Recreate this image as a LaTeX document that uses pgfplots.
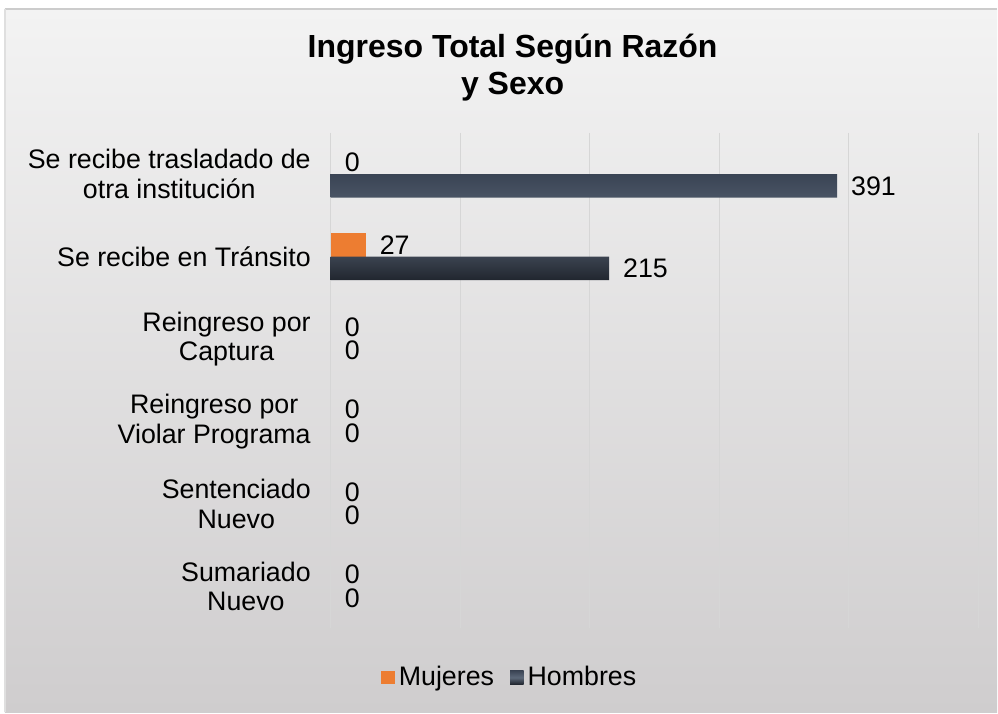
\documentclass[border=0pt]{standalone}
\usepackage{pgfplots}
\pgfplotsset{compat=1.18}
\usepackage{fontspec}
\setmainfont{Liberation Sans}
\definecolor{bgtop}{RGB}{243,243,243}
\definecolor{bgbot}{RGB}{207,205,206}
\definecolor{gridc}{RGB}{214,214,214}
\definecolor{orangec}{RGB}{237,125,49}
\definecolor{navytop}{RGB}{58,68,84}
\definecolor{navymid}{RGB}{92,104,121}
\definecolor{navybot}{RGB}{33,38,47}
\begin{document}
\begin{tikzpicture}
% canvas 998x713 px, 1px = 0.5pt
\fill[white] (0pt,0pt) rectangle (499pt,356.5pt);
\shade[top color=bgtop, bottom color=bgbot] (2.5pt,0pt) rectangle (499pt,352pt);
\draw[gray!40, line width=0.8pt] (2.5pt,352pt) -- (499pt,352pt);
\draw[gray!25, line width=0.6pt] (2.5pt,0pt) -- (2.5pt,352pt);
\node[align=center, font=\fontsize{16}{18.5}\selectfont\bfseries] at (256.5pt,322.5pt) {Ingreso Total Según Razón\\y Sexo};
\begin{axis}[
  at={(165.5pt,42.5pt)}, anchor=south west,
  scale only axis, width=324pt, height=247.5pt,
  xbar, bar width=11.75pt,
  xmin=0, xmax=500,
  ymin=-0.5, ymax=5.5, y dir=reverse,
  xtick={0,100,...,500}, xticklabels={},
  ytick={0,1,2,3,4,5},
  yticklabels={{Se recibe trasladado de\\otra institución},{Se recibe en Tránsito},{Reingreso por\\Captura},{Reingreso por\\Violar Programa},{Sentenciado\\Nuevo},{Sumariado\\Nuevo}},
  yticklabel style={align=center, font=\fontsize{13.4}{14.8}\selectfont, xshift=-6.5pt},
  major tick length=0pt,
  xmajorgrids, grid style={gridc, line width=0.6pt},
  axis line style={draw=none},
  /pgf/number format/assume math mode=true,
  nodes near coords,
  nodes near coords style={font=\fontsize{13.4}{14.8}\selectfont, anchor=west, xshift=3.5pt, inner ysep=0.5pt, black},
  legend style={at={(0.278,-0.101)}, anchor=center, draw=none, fill=none, legend columns=2,
    font=\fontsize{13.4}{14.8}\selectfont, /tikz/every even column/.append style={column sep=6pt}},
  legend cell align=left,
  legend image code/.code={\path[#1] (0pt,-3.4pt) rectangle (6.8pt,3.4pt);},
]
\addplot[fill=orangec, draw=none, bar shift=5.875pt] coordinates {(27,1)};
\addlegendentry{Mujeres}
\addplot[draw=none, top color=navytop, bottom color=navybot, middle color=navymid, bar shift=-5.875pt] coordinates {(391,0) (215,1)};
\addlegendentry{Hombres}
% zero-valued bars: labels only
\addplot[draw=none, fill=none, bar shift=5.875pt, forget plot] coordinates {(0,0) (0,2) (0,3) (0,4) (0,5)};
\addplot[draw=none, fill=none, bar shift=-5.875pt, forget plot] coordinates {(0,2) (0,3) (0,4) (0,5)};
\end{axis}
\end{tikzpicture}
\end{document}
